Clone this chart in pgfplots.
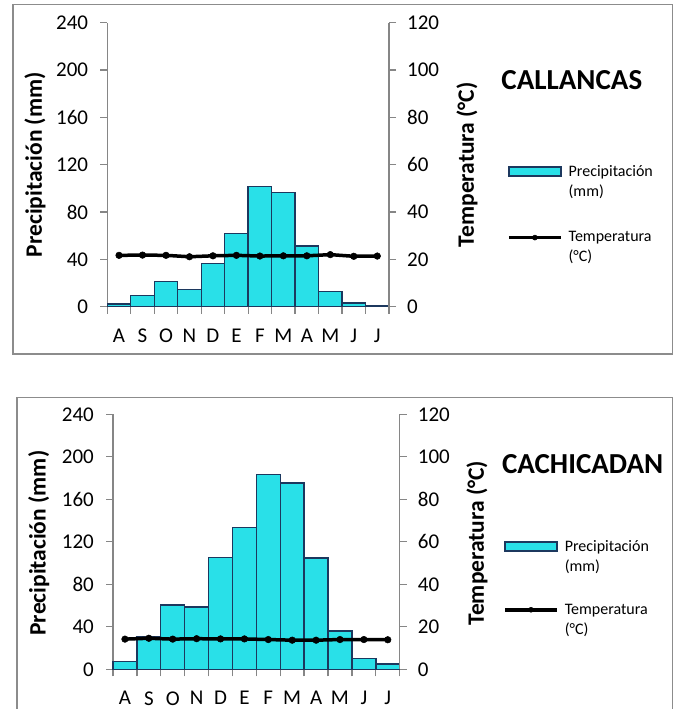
\documentclass[border=0pt]{standalone}
\usepackage{fontspec}
\setmainfont{Carlito}
\usepackage{pgfplots}
\pgfplotsset{compat=1.18}
\definecolor{barfill}{RGB}{41,224,232}
\definecolor{baredge}{RGB}{28,56,94}
\definecolor{axgray}{RGB}{134,134,134}
\definecolor{framegray}{RGB}{140,140,140}
\tikzset{ylab/.style={rotate=90, anchor=center, font=\bfseries\fontsize{23.5}{26}\selectfont}}
\pgfplotsset{
  common/.style={scale only axis, xmin=0.5, xmax=12.5, ymin=0, anchor=south west,
    /pgf/number format/assume math mode=true,
    tick label style={font=\fontsize{21}{24}\selectfont},
    tick align=outside,
    axis line style={-, draw=axgray, line width=1.3pt},
    tick style={draw=axgray, line width=1.3pt},
    major tick length=7pt, clip=false},
  precip/.style={common, ymax=240, ytick={0,40,...,240},
    axis y line*=left, axis x line*=bottom,
    xtick={0.5,1.5,...,12.5}, x tick label as interval,
    xticklabels={A,S,O,N,D,E,F,M,A,M,J,J},
    yticklabel style={inner sep=0pt, xshift=-12pt},
    xticklabel style={inner sep=0pt, yshift=-15pt},
    ybar, bar width=1, bar shift=0pt},
  temp/.style={common, ymax=120, ytick={0,20,...,120},
    axis y line*=right, axis x line=none,
    yticklabel style={inner sep=0pt, xshift=11pt},
    legend cell align=left,
    legend style={anchor=north west, draw=none, fill=none,
      font=\fontsize{16}{20}\selectfont, cells={align=left}}},
  barstyle/.style={fill=barfill, draw=baredge, line width=1.4pt},
  tempstyle/.style={black, line width=3.5pt, mark=*, mark size=3.3pt,
    mark options={solid, fill=black, line width=0.5pt},
    legend image code/.code={\draw[##1, mark repeat=2, mark phase=2, mark size=2.5pt] plot coordinates {(0pt,10pt) (26pt,10pt) (52pt,10pt)}; \path (56pt,10pt);}},
  barleg/.style={legend image code/.code={\draw[fill=barfill, draw=baredge, line width=1.4pt] (0pt,5.5pt) rectangle (52pt,14.5pt); \path (56pt,10pt);}}
}
\begin{document}
\begin{tikzpicture}
\useasboundingbox (0pt,0pt) rectangle (674pt,709pt);
\draw[framegray, line width=1.5pt] (13pt,355pt) rectangle (672.5pt,704.5pt);
\draw[framegray, line width=1.5pt] (17pt,-5pt) rectangle (672.5pt,311.7pt);

% ---------- CALLANCAS ----------
\begin{axis}[precip, at={(107.3pt,402.3pt)}, width=281.7pt, height=284pt,
  ylabel={Precipitación (mm)},
  every axis y label/.style={at={(axis description cs:-0.257,0.5)}, ylab}]
\addplot[barstyle] coordinates {(1,2.3) (2,9.6) (3,21.1) (4,14.6) (5,36.3) (6,62) (7,101.4) (8,96.6) (9,51.3) (10,13) (11,3.1) (12,0.8)};
\end{axis}
\begin{axis}[temp, at={(107.3pt,402.3pt)}, width=281.7pt, height=284pt,
  ylabel={Temperatura (°C)},
  every axis y label/.style={at={(axis description cs:1.277,0.5)}, ylab},
  title={CALLANCAS},
  every axis title/.style={at={(axis description cs:1.649,0.798)}, anchor=center, font=\bfseries\fontsize{29}{32}\selectfont},
  legend style={at={(axis description cs:1.408,0.513)}, row sep=30pt}]
\addlegendimage{barleg}
\addlegendentry{Precipitación\\(mm)}
\addplot[tempstyle] coordinates {(1,21.7) (2,21.8) (3,21.7) (4,21.1) (5,21.5) (6,21.7) (7,21.4) (8,21.5) (9,21.5) (10,22) (11,21.3) (12,21.4)};
\addlegendentry{Temperatura\\(°C)}
\end{axis}

% ---------- CACHICADAN ----------
\begin{axis}[precip, at={(113pt,39.7pt)}, width=286.7pt, height=255pt,
  ylabel={Precipitación (mm)},
  every axis y label/.style={at={(axis description cs:-0.259,0.495)}, ylab}]
\addplot[barstyle] coordinates {(1,7.6) (2,30.9) (3,60.5) (4,58.6) (5,105.5) (6,133.2) (7,183.6) (8,175.4) (9,104.6) (10,36.2) (11,10.4) (12,5)};
\end{axis}
\begin{axis}[temp, at={(113pt,39.7pt)}, width=286.7pt, height=255pt,
  ylabel={Temperatura (°C)},
  every axis y label/.style={at={(axis description cs:1.270,0.495)}, ylab},
  title={CACHICADAN},
  every axis title/.style={at={(axis description cs:1.638,0.805)}, anchor=center, font=\bfseries\fontsize{29}{32}\selectfont},
  legend style={at={(axis description cs:1.350,0.522)}, row sep=27pt}]
\addlegendimage{barleg}
\addlegendentry{Precipitación\\(mm)}
\addplot[tempstyle] coordinates {(1,14.2) (2,14.6) (3,14.2) (4,14.4) (5,14.3) (6,14.3) (7,14.0) (8,13.7) (9,13.7) (10,14.0) (11,14.0) (12,13.9)};
\addlegendentry{Temperatura\\(°C)}
\end{axis}
\end{tikzpicture}
\end{document}
